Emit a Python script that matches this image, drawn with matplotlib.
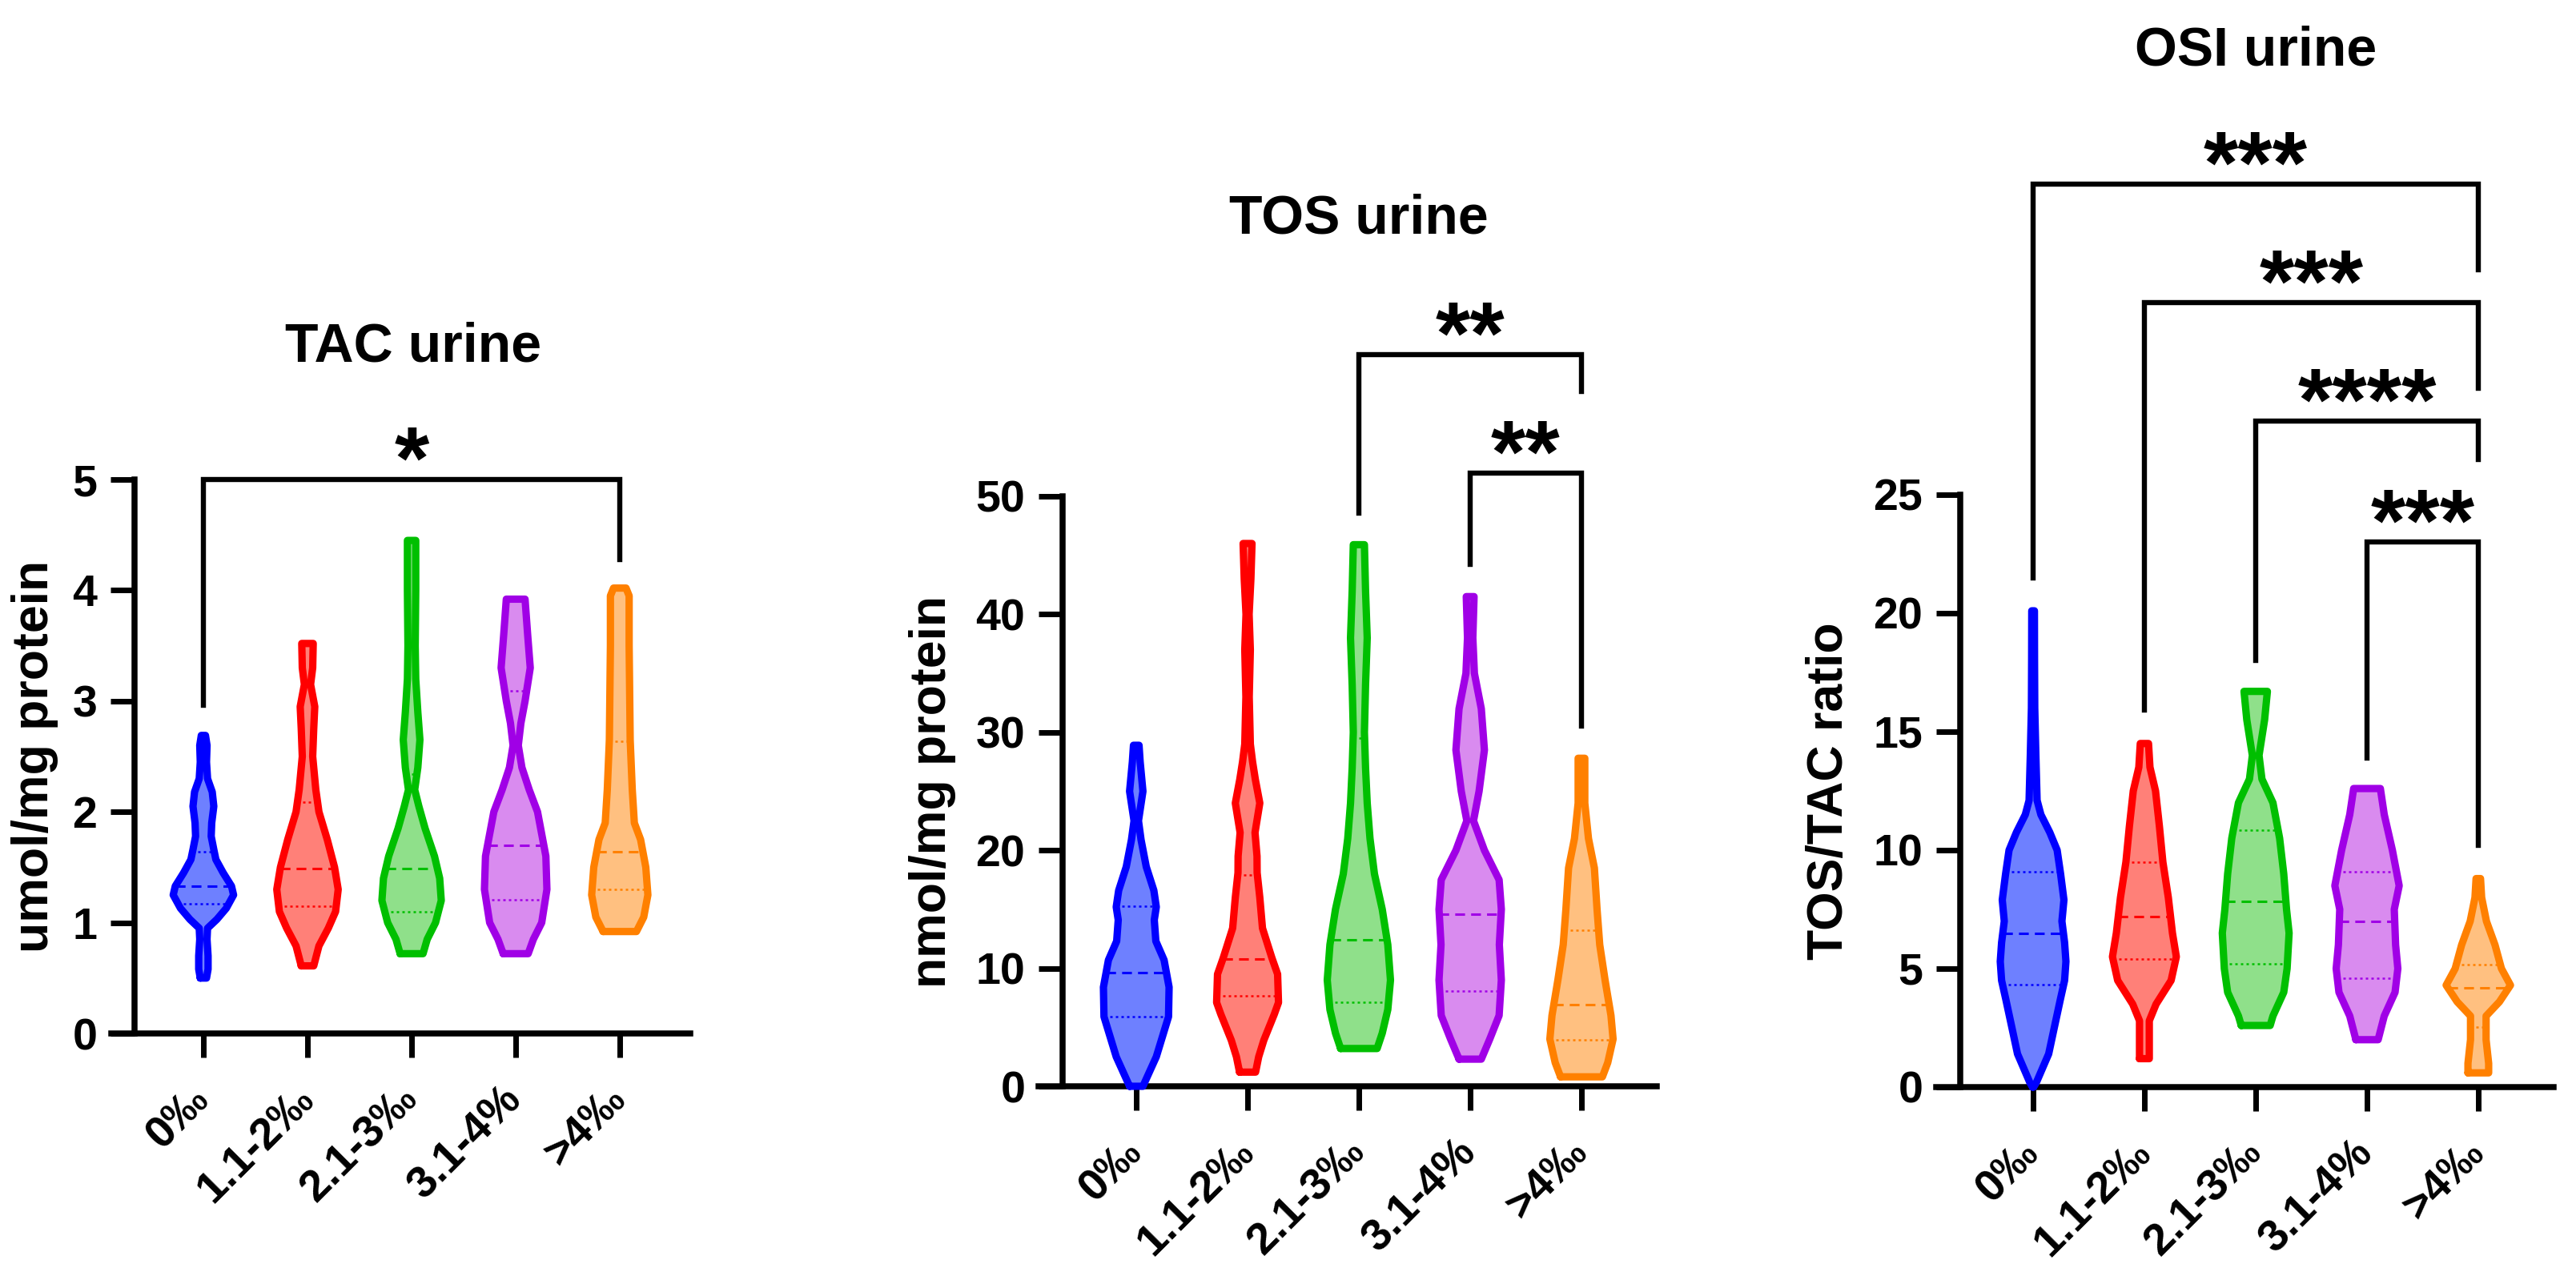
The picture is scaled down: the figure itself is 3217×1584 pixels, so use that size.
import numpy as np
import matplotlib
matplotlib.use('Agg')
import matplotlib.pyplot as plt

plt.rcParams['font.family'] = ['Liberation Sans', 'DejaVu Sans']
plt.rcParams['font.weight'] = 'bold'

W, H, DPI = 3217, 1584, 200

categories = ['0‰', '1.1-2‰', '2.1-3‰', '3.1-4%', '>4‰']
outline_colors = ['#0000FF', '#FF0000', '#00BF00', '#A000E6', '#FF8000']
fill_colors = ['#6E80FF', '#FF8078', '#8FE08A', '#D98BEF', '#FFC080']

# ---------------- TAC urine ----------------
tac_levels = [
    [0.50, 0.58, 0.70, 0.85, 0.95, 1.03, 1.13, 1.25, 1.33, 1.45, 1.57, 1.66, 1.78, 1.90, 2.05, 2.18, 2.30, 2.45, 2.60, 2.69],
    [0.61, 0.79, 0.95, 1.10, 1.30, 1.50, 1.75, 2.00, 2.20, 2.50, 2.75, 2.95, 3.15, 3.30, 3.52],
    [0.72, 0.85, 1.00, 1.20, 1.40, 1.60, 1.85, 2.05, 2.20, 2.40, 2.65, 2.90, 3.20, 3.50, 4.00, 4.45],
    [0.72, 0.85, 1.00, 1.30, 1.60, 1.80, 2.00, 2.20, 2.40, 2.60, 2.80, 3.00, 3.30, 3.60, 3.92],
    [0.92, 1.05, 1.25, 1.50, 1.75, 1.90, 2.20, 2.65, 3.50, 3.95, 4.02],
]
tac_halfwidths = [
    [0.03, 0.045, 0.045, 0.035, 0.04, 0.13, 0.22, 0.29, 0.27, 0.19, 0.12, 0.10, 0.075, 0.08, 0.10, 0.085, 0.04, 0.03, 0.035, 0.02],
    [0.06, 0.11, 0.20, 0.27, 0.295, 0.26, 0.19, 0.11, 0.08, 0.05, 0.06, 0.07, 0.03, 0.05, 0.055],
    [0.11, 0.15, 0.23, 0.285, 0.27, 0.22, 0.13, 0.07, 0.03, 0.06, 0.08, 0.06, 0.04, 0.035, 0.04, 0.04],
    [0.12, 0.17, 0.25, 0.30, 0.29, 0.25, 0.21, 0.13, 0.06, 0.025, 0.05, 0.09, 0.14, 0.115, 0.09],
    [0.16, 0.23, 0.27, 0.25, 0.20, 0.14, 0.12, 0.10, 0.09, 0.09, 0.06],
]
tac_median = [1.33, 1.49, 1.49, 1.70, 1.64]
tac_q1 = [1.17, 1.15, 1.10, 1.21, 1.30]
tac_q3 = [1.64, 2.09, 2.34, 3.09, 2.64]
tac_brackets = [(0, 4, 5.0, 2.96, 4.28, '*')]

# ---------------- TOS urine ----------------
tos_levels = [
    [0.0, 2.5, 5.9, 8.4, 10.7, 12.3, 14.1, 15.2, 16.6, 18.6, 20.9, 22.5, 25.0, 27.5, 28.9],
    [1.2, 2.5, 3.9, 6.1, 7.1, 9.5, 10.9, 13.4, 16.0, 18.1, 19.5, 21.5, 24.0, 26.0, 27.5, 29.0, 33.0, 37.0, 40.0, 43.0, 46.0],
    [3.2, 4.5, 6.5, 9.0, 12.0, 15.0, 18.0, 21.0, 24.0, 27.0, 30.0, 34.0, 38.0, 42.0, 45.9],
    [2.3, 4.0, 6.0, 9.0, 12.0, 15.0, 17.5, 20.0, 22.5, 25.0, 28.5, 32.0, 35.0, 38.0, 41.5],
    [0.8, 2.0, 4.0, 6.0, 9.0, 12.0, 15.0, 18.5, 21.0, 24.0, 27.8],
]
tos_halfwidths = [
    [0.06, 0.18, 0.29, 0.295, 0.25, 0.176, 0.162, 0.18, 0.158, 0.09, 0.043, 0.02, 0.06, 0.035, 0.025],
    [0.072, 0.10, 0.146, 0.24, 0.278, 0.27, 0.218, 0.134, 0.11, 0.086, 0.085, 0.067, 0.11, 0.07, 0.045, 0.025, 0.015, 0.025, 0.014, 0.03, 0.04],
    [0.164, 0.21, 0.26, 0.284, 0.26, 0.21, 0.14, 0.10, 0.075, 0.06, 0.05, 0.06, 0.075, 0.06, 0.05],
    [0.10, 0.176, 0.26, 0.28, 0.262, 0.28, 0.26, 0.128, 0.03, 0.08, 0.128, 0.10, 0.038, 0.024, 0.035],
    [0.188, 0.236, 0.284, 0.265, 0.212, 0.164, 0.14, 0.116, 0.063, 0.03, 0.03],
]
tos_median = [9.66, 10.8, 12.4, 14.6, 6.9]
tos_q1 = [5.9, 7.7, 7.1, 8.1, 3.95]
tos_q3 = [15.25, 17.9, 29.5, 22.5, 13.2]
tos_brackets = [(2, 4, 62.0, 48.6, 58.9, '**'), (3, 4, 52.0, 44.2, 30.5, '**')]

# ---------------- OSI urine ----------------
osi_levels = [
    [0.0, 0.2, 1.4, 2.5, 3.7, 4.5, 5.3, 6.1, 7.0, 7.9, 9.0, 10.0, 10.75, 11.5, 12.1, 14.0, 16.0, 18.0, 20.1],
    [1.2, 2.8, 3.5, 4.5, 5.5, 6.5, 8.0, 9.5, 11.0, 12.5, 13.5, 14.5],
    [2.6, 3.0, 4.0, 5.0, 6.5, 7.5, 9.0, 10.5, 12.0, 13.0, 14.0, 15.5, 16.7],
    [2.0, 3.0, 4.0, 5.0, 6.0, 7.5, 8.5, 10.0, 11.5, 12.6],
    [0.6, 1.0, 2.0, 3.0, 3.6, 4.3, 5.0, 6.0, 7.0, 8.0, 8.8],
]
osi_halfwidths = [
    [0.005, 0.03, 0.14, 0.19, 0.245, 0.283, 0.295, 0.283, 0.259, 0.277, 0.247, 0.216, 0.15, 0.07, 0.036, 0.025, 0.015, 0.013, 0.012],
    [0.044, 0.044, 0.105, 0.24, 0.287, 0.252, 0.215, 0.166, 0.135, 0.10, 0.05, 0.037],
    [0.13, 0.155, 0.252, 0.282, 0.30, 0.277, 0.252, 0.215, 0.155, 0.056, 0.03, 0.08, 0.105],
    [0.10, 0.155, 0.252, 0.277, 0.257, 0.245, 0.289, 0.228, 0.155, 0.12],
    [0.093, 0.093, 0.07, 0.07, 0.19, 0.289, 0.208, 0.15, 0.073, 0.03, 0.02],
]
osi_median = [6.47, 7.2, 7.84, 7.0, 4.2]
osi_q1 = [4.34, 5.4, 5.2, 4.58, 2.54]
osi_q3 = [9.09, 9.5, 10.85, 9.1, 5.16]
osi_brackets = [(0, 4, 38.1, 21.5, 34.5, '***'), (1, 4, 33.1, 15.9, 29.5, '***'),
                (2, 4, 28.1, 18.0, 26.5, '****'), (3, 4, 23.0, 13.9, 10.2, '***')]

panels = [
    dict(title='TAC urine', ylabel='umol/mg protein', levels=tac_levels, hws=tac_halfwidths,
         med=tac_median, q1=tac_q1, q3=tac_q3, brackets=tac_brackets,
         ymax=5, ystep=1, box=(139, 862, 599, 1291), yspine=168, cat0=254, spacing=130,
         title_xy=(516, 451), ylab_x=44),
    dict(title='TOS urine', ylabel='nmol/mg protein', levels=tos_levels, hws=tos_halfwidths,
         med=tos_median, q1=tos_q1, q3=tos_q3, brackets=tos_brackets,
         ymax=50, ystep=10, box=(1297, 2069, 620, 1357), yspine=1327, cat0=1419, spacing=139,
         title_xy=(1697, 291), ylab_x=1165),
    dict(title='OSI urine', ylabel='TOS/TAC ratio', levels=osi_levels, hws=osi_halfwidths,
         med=osi_median, q1=osi_q1, q3=osi_q3, brackets=osi_brackets,
         ymax=25, ystep=5, box=(2418, 3189, 618, 1358), yspine=2448, cat0=2539, spacing=139,
         title_xy=(2817, 82), ylab_x=2284),
]

fig = plt.figure(figsize=(W / DPI, H / DPI), dpi=DPI)
px2pt = 72.0 / DPI

for p in panels:
    x0, x1, ytop, ybot = p['box']
    ax = fig.add_axes([x0 / W, 1 - ybot / H, (x1 - x0) / W, (ybot - ytop) / H])
    ax.set_facecolor('none')
    xl = -(p['cat0'] - x0) / p['spacing']
    xr = (x1 - p['cat0']) / p['spacing']
    ax.set_xlim(xl, xr)
    ax.set_ylim(0, p['ymax'])
    xs_spine = -(p['cat0'] - p['yspine']) / p['spacing']

    for i in range(5):
        y = np.array(p['levels'][i])
        hw = np.array(p['hws'][i])
        ax.fill_betweenx(y, i - hw, i + hw, facecolor=fill_colors[i], edgecolor='none',
                         zorder=2, clip_on=False)
        for val, ls, lw in [(p['med'][i], (0, (4, 2.5)), 1.1),
                            (p['q1'][i], (0, (1.2, 1.6)), 0.9),
                            (p['q3'][i], (0, (1.2, 1.6)), 0.9)]:
            w = np.interp(val, y, hw)
            ax.plot([i - w, i + w], [val, val], color=outline_colors[i], lw=lw, ls=ls,
                    zorder=3, clip_on=False)
        ox = np.concatenate([i - hw, (i + hw)[::-1], [i - hw[0]]])
        oy = np.concatenate([y, y[::-1], [y[0]]])
        ax.plot(ox, oy, color=outline_colors[i], lw=3.3, solid_joinstyle='round',
                solid_capstyle='round', zorder=4, clip_on=False)

    for (a, b, top, la, lb, lab) in p['brackets']:
        ax.plot([a, a, b, b], [la, top, top, lb], color='black', lw=2.3,
                solid_joinstyle='miter', clip_on=False, zorder=5)
        ax.annotate(lab, xy=((a + b) / 2, top), xytext=(0, -4.2), textcoords='offset points',
                    ha='center', va='baseline', fontsize=40, fontweight='bold',
                    annotation_clip=False)

    for s in ['top', 'right']:
        ax.spines[s].set_visible(False)
    ax.spines['left'].set_position(('data', xs_spine))
    ax.spines['left'].set_bounds(0, p['ymax'])
    for s in ['left', 'bottom']:
        ax.spines[s].set_linewidth(2.7)
        ax.spines[s].set_capstyle('projecting')

    ax.set_yticks(np.arange(0, p['ymax'] + 0.001, p['ystep']))
    ax.set_yticklabels([str(int(v)) for v in np.arange(0, p['ymax'] + 0.001, p['ystep'])])
    ax.set_xticks(range(5))
    ax.set_xticklabels(categories)
    ax.tick_params(axis='both', direction='out', length=30 * px2pt, width=2.5,
                   labelsize=20, color='black')
    ax.tick_params(axis='y', pad=6)
    ax.tick_params(axis='x', pad=16)
    for t in ax.get_yticklabels():
        t.set_fontweight('bold')
    for t in ax.get_xticklabels():
        t.set_fontweight('bold')
        t.set_rotation(45)
        t.set_ha('right')
        t.set_va('center')
        t.set_rotation_mode('anchor')

    ax.text((p['ylab_x'] - x0) / (x1 - x0), 0.5, p['ylabel'], transform=ax.transAxes,
            rotation=90, ha='center', va='center', fontsize=22.5, fontweight='bold')
    fig.text(p['title_xy'][0] / W, 1 - p['title_xy'][1] / H, p['title'], ha='center',
             va='baseline', fontsize=24.5, fontweight='bold')

fig.savefig('out.png', dpi=DPI)
